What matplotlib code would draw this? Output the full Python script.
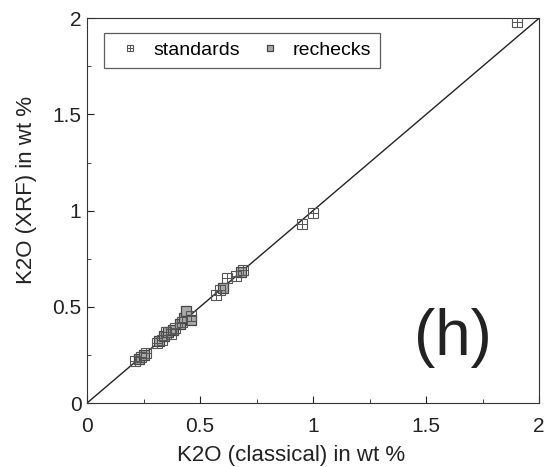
import numpy as np
import matplotlib.pyplot as plt
from matplotlib.lines import Line2D

# standards (square with cross)
std_x = [0.21, 0.24, 0.26, 0.31, 0.33, 0.35, 0.37, 0.39, 0.42, 0.46, 0.57, 0.59, 0.62, 0.66, 0.69, 0.95, 1.00, 1.90]
std_y = [0.22, 0.24, 0.26, 0.31, 0.33, 0.37, 0.36, 0.39, 0.42, 0.45, 0.56, 0.59, 0.65, 0.66, 0.69, 0.93, 0.99, 1.98]

# rechecks (grey filled square)
rec_x = [0.23, 0.25, 0.32, 0.34, 0.36, 0.38, 0.41, 0.43, 0.44, 0.46, 0.60, 0.68]
rec_y = [0.23, 0.25, 0.32, 0.35, 0.37, 0.38, 0.41, 0.44, 0.48, 0.43, 0.60, 0.68]

plt.rcParams['font.family'] = ['Liberation Sans', 'DejaVu Sans']

fig = plt.figure(figsize=(5.44, 4.67), dpi=100)
ax = fig.add_axes([0.16, 0.137, 0.831, 0.824])

ax.plot([0, 2], [0, 2], color='#222222', lw=1.0, zorder=1)

ax.plot(std_x, std_y, ls='none', marker='s', ms=7, mfc='none', mec='#555555', mew=0.8, zorder=3)
ax.plot(std_x, std_y, ls='none', marker='+', ms=7, mec='#555555', mew=0.7, zorder=3)
ax.plot(rec_x, rec_y, ls='none', marker='s', ms=7, mfc='#aaaaaa', mec='#444444', mew=0.9, zorder=2)

ax.set_xlim(0, 2)
ax.set_ylim(0, 2)
ax.set_xticks([0, 0.5, 1, 1.5, 2])
ax.set_xticklabels(['0', '0.5', '1', '1.5', '2'])
ax.set_yticks([0, 0.5, 1, 1.5, 2])
ax.set_yticklabels(['0', '0.5', '1', '1.5', '2'])
ax.set_xticks(np.arange(0.25, 2, 0.5), minor=True)
ax.set_yticks(np.arange(0.25, 2, 0.5), minor=True)
ax.tick_params(which='both', direction='in', labelsize=15, colors='#222222')
ax.tick_params(which='major', length=5)
ax.tick_params(which='minor', length=3)
ax.tick_params(axis='x', pad=10)
ax.tick_params(axis='y', pad=4)
for s in ax.spines.values():
    s.set_color('#333333')

ax.set_xlabel('K2O (classical) in wt %', fontsize=16, color='#222222')
ax.set_ylabel('K2O (XRF) in wt %', fontsize=16, color='#222222')
ax.xaxis.set_label_coords(0.451, -0.108)
ax.yaxis.set_label_coords(-0.11, 0.553)

h_std = (Line2D([], [], ls='none', marker='s', ms=5, mfc='none', mec='#555555', mew=0.8),
         Line2D([], [], ls='none', marker='+', ms=5, mec='#555555', mew=0.7))
h_rec = Line2D([], [], ls='none', marker='s', ms=5, mfc='#aaaaaa', mec='#444444', mew=0.9)
leg = ax.legend([h_std, h_rec], ['standards', 'rechecks'], loc='upper left',
                bbox_to_anchor=(0.037, 0.962), ncol=2, fontsize=14, frameon=True,
                fancybox=False, edgecolor='#333333', borderpad=0.45, handletextpad=0.3,
                columnspacing=0.65, handlelength=1.78, borderaxespad=0)
leg.get_frame().set_linewidth(0.9)

ax.text(0.81, 0.17, '(h)', transform=ax.transAxes, fontsize=46, ha='center', va='center', color='#222222')

fig.savefig('out.png', dpi=100)
